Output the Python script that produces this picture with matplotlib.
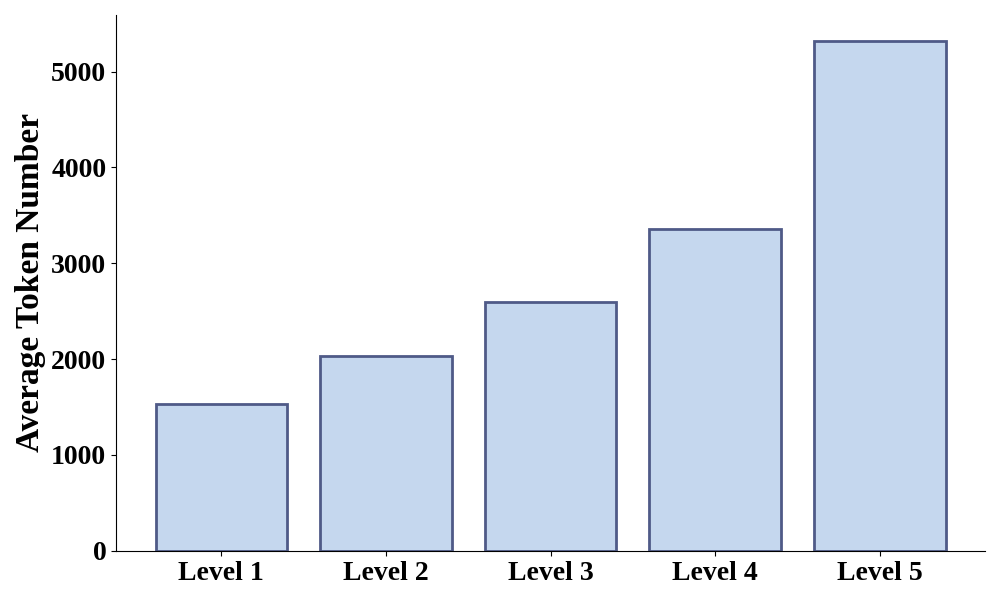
import matplotlib
matplotlib.use("Agg")
import matplotlib.pyplot as plt

# data
levels = ["Level 1", "Level 2", "Level 3", "Level 4", "Level 5"]
avg_tokens = [1535, 2035, 2600, 3360, 5325]

plt.rcParams['font.family'] = ['Liberation Serif', 'DejaVu Serif']
plt.rcParams['font.weight'] = 'bold'

fig = plt.figure(figsize=(10, 6), dpi=100)
ax = fig.add_axes([0.116, 0.082, 0.869, 0.893])

ax.bar(range(len(levels)), avg_tokens, width=0.8,
       color='#c5d7ee', edgecolor='#4f5a87', linewidth=2)

ax.set_xticks(range(len(levels)))
ax.set_xticklabels(levels, fontsize=20, fontweight='bold')
ax.tick_params(axis='y', labelsize=20)
for lab in ax.get_yticklabels():
    lab.set_fontweight('bold')
ax.set_ylim(0, max(avg_tokens) * 1.05)
ax.set_ylabel('Average Token Number', fontsize=24, fontweight='bold')

ax.spines['top'].set_visible(False)
ax.spines['right'].set_visible(False)

fig.savefig('out.png', dpi=100)
